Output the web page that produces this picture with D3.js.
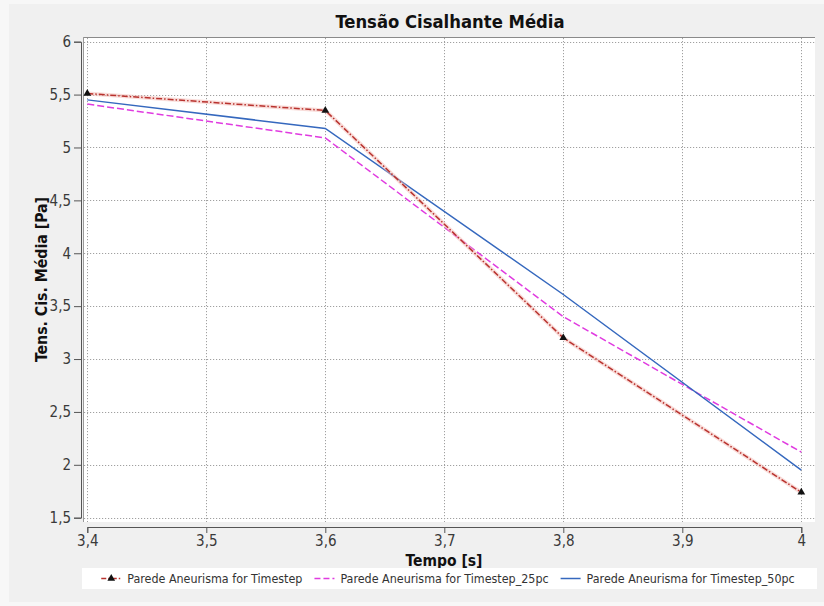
<!DOCTYPE html>
<html>
<head>
<meta charset="utf-8">
<script src="https://cdn.jsdelivr.net/npm/d3@7"></script>
<style>
  html, body { margin: 0; padding: 0; background: #f7f7f7; }
  svg { display: block; }
  text { font-family: "DejaVu Sans Condensed", "DejaVu Sans", sans-serif; }
</style>
</head>
<body>
<svg id="chart" width="824" height="606"></svg>
<script>
// Sampled time instants [s]
const tempo = [3.4, 3.6, 3.8, 4.0];

// Mean wall shear stress [Pa] per run
const timestep      = [5.51, 5.35, 3.20, 1.74];
const timestep25pc  = [5.41, 5.09, 3.40, 2.12];
const timestep50pc  = [5.45, 5.18, 3.61, 1.95];

const seriesNames = [
  "Parede Aneurisma for Timestep",
  "Parede Aneurisma for Timestep_25pc",
  "Parede Aneurisma for Timestep_50pc"
];

// Axis ticks and their labels (decimal comma)
const xTicks = [3.4, 3.5, 3.6, 3.7, 3.8, 3.9, 4.0];
const xTickLabels = ["3,4", "3,5", "3,6", "3,7", "3,8", "3,9", "4"];
const yTicks = [1.5, 2, 2.5, 3, 3.5, 4, 4.5, 5, 5.5, 6];
const yTickLabels = ["1,5", "2", "2,5", "3", "3,5", "4", "4,5", "5", "5,5", "6"];

const title = "Tensão Cisalhante Média";
const xTitle = "Tempo [s]";
const yTitle = "Tens. Cis. Média [Pa]";

const svg = d3.select("#chart");

// Panel background
svg.append("rect").attr("x", 9).attr("y", 4).attr("width", 815).attr("height", 598)
  .attr("fill", "#f0f0f0");

// Plot area
const plot = { left: 83, right: 815, top: 37, bottom: 522 };
const x = d3.scaleLinear().domain([3.4, 4.0]).range([87.3, 801.3]);
const y = d3.scaleLinear().domain([1.5, 6]).range([517.7, 41.7]);

svg.append("rect")
  .attr("x", plot.left).attr("y", plot.top)
  .attr("width", plot.right - plot.left).attr("height", plot.bottom - plot.top)
  .attr("fill", "#ffffff");
svg.append("line")
  .attr("x1", plot.left).attr("x2", plot.right)
  .attr("y1", plot.top + 0.5).attr("y2", plot.top + 0.5)
  .attr("stroke", "#8a8a8a").attr("stroke-width", 1);
svg.append("line")
  .attr("x1", plot.left + 0.5).attr("x2", plot.left + 0.5)
  .attr("y1", plot.top).attr("y2", plot.bottom)
  .attr("stroke", "#9a9a9a").attr("stroke-width", 1);

// Grid lines
const grid = svg.append("g").attr("stroke", "#a0a0a0").attr("stroke-width", 1)
  .attr("stroke-dasharray", "1.2,1.8");
grid.selectAll(".gx").data(xTicks).join("line")
  .attr("x1", d => Math.round(x(d)) + 0.5).attr("x2", d => Math.round(x(d)) + 0.5)
  .attr("y1", plot.top + 1).attr("y2", plot.bottom);
grid.selectAll(".gy").data(yTicks).join("line")
  .attr("y1", d => Math.round(y(d)) + 0.5).attr("y2", d => Math.round(y(d)) + 0.5)
  .attr("x1", plot.left + 1).attr("x2", plot.right);

// Axes
const axisColor = "#555";
const xAxisY = 527;
const yAxisX = 81;

const xMinor = d3.range(3.4, 4.0001, 0.02).filter(v => Math.abs(v * 10 - Math.round(v * 10)) > 1e-6);
const yMinor = d3.range(1.5, 6.0001, 0.1).filter(v => Math.abs(v * 2 - Math.round(v * 2)) > 1e-6);

const gx = svg.append("g").attr("transform", `translate(0,${xAxisY})`);
gx.call(d3.axisBottom(x).tickValues(xMinor).tickSize(3).tickSizeOuter(0).tickFormat(""));
gx.call(d3.axisBottom(x).tickValues(xTicks).tickSize(6).tickSizeOuter(6).tickPadding(2)
  .tickFormat((d, i) => xTickLabels[i]));

const gy = svg.append("g").attr("transform", `translate(${yAxisX},0)`);
gy.call(d3.axisLeft(y).tickValues(yMinor).tickSize(3).tickSizeOuter(0).tickFormat(""));
gy.call(d3.axisLeft(y).tickValues(yTicks).tickSize(7).tickSizeOuter(7).tickPadding(3)
  .tickFormat((d, i) => yTickLabels[i]));

[gx, gy].forEach(g => {
  g.selectAll("path, line").attr("stroke", axisColor);
  g.selectAll("text").attr("fill", "#3a3a3a").attr("font-size", 15)
    .style("font-family", '"DejaVu Sans Condensed", "DejaVu Sans", sans-serif');
});

// Series
const clip = svg.append("clipPath").attr("id", "plotclip").append("rect")
  .attr("x", plot.left).attr("y", plot.top)
  .attr("width", plot.right - plot.left).attr("height", plot.bottom - plot.top);

const series = [
  { name: seriesNames[0], values: timestep,     color: "#b8322e", dash: "6,2,1.5,2", marker: true },
  { name: seriesNames[1], values: timestep25pc, color: "#e03be0", dash: "7,3",       marker: false },
  { name: seriesNames[2], values: timestep50pc, color: "#3568be", dash: null,        marker: false }
];

const line = d3.line().x(d => x(d[0])).y(d => y(d[1]));
const lines = svg.append("g").attr("clip-path", "url(#plotclip)");
const drawOrder = [1, 2, 0];
drawOrder.forEach(k => {
  const s = series[k];
  const pts = tempo.map((t, i) => [t, s.values[i]]);
  if (k === 0) {
    lines.append("path").attr("d", line(pts)).attr("fill", "none")
      .attr("stroke", "#f3b9b4").attr("stroke-width", 4).attr("opacity", 0.5);
  }
  lines.append("path").attr("d", line(pts)).attr("fill", "none")
    .attr("stroke", s.color).attr("stroke-width", 1.5)
    .attr("stroke-dasharray", s.dash);
});

const tri = d3.symbol().type(d3.symbolTriangle).size(26);
svg.append("g").selectAll("path").data(tempo.map((t, i) => [t, timestep[i]])).join("path")
  .attr("d", tri)
  .attr("transform", d => `translate(${x(d[0])},${y(d[1])})`)
  .attr("fill", "#111");

// Titles
svg.append("text").attr("x", 450).attr("y", 28).attr("text-anchor", "middle")
  .attr("font-size", 18.3).attr("font-weight", "bold").attr("fill", "#111").text(title);
svg.append("text").attr("x", 444).attr("y", 566).attr("text-anchor", "middle")
  .attr("font-size", 15.5).attr("font-weight", "bold").attr("fill", "#111").text(xTitle);
svg.append("text").attr("transform", `translate(47,${(plot.top + plot.bottom) / 2}) rotate(-90)`)
  .attr("text-anchor", "middle")
  .attr("font-size", 15.7).attr("font-weight", "bold").attr("fill", "#111").text(yTitle);

// Legend
const legend = svg.append("g");
legend.append("rect").attr("x", 82).attr("y", 568).attr("width", 735).attr("height", 21)
  .attr("fill", "#ffffff");
const symW = 20, symGap = 6, itemGap = 12, legendY = 578.5;
const items = legend.selectAll("g.item").data(series).join("g").attr("class", "item");
items.append("text").attr("font-size", 12.4).attr("fill", "#333")
  .attr("dominant-baseline", "central").attr("y", legendY).text(d => d.name);
const widths = [];
items.each(function () { widths.push(d3.select(this).select("text").node().getComputedTextLength()); });
const total = d3.sum(widths) + series.length * (symW + symGap) + (series.length - 1) * itemGap;
let cx = 448 - total / 2;
items.each(function (d, i) {
  const g = d3.select(this);
  g.insert("line", "text")
    .attr("x1", cx).attr("x2", cx + symW).attr("y1", legendY).attr("y2", legendY)
    .attr("stroke", d.color).attr("stroke-width", 1.5)
    .attr("stroke-dasharray", d.dash ? (i === 0 ? "5,2,1.5,2" : "6,3") : null);
  if (d.marker) {
    g.append("path").attr("d", tri)
      .attr("transform", `translate(${cx + symW / 2},${legendY})`).attr("fill", "#111");
  }
  g.select("text").attr("x", cx + symW + symGap);
  cx += symW + symGap + widths[i] + itemGap;
});
</script>
</body>
</html>
